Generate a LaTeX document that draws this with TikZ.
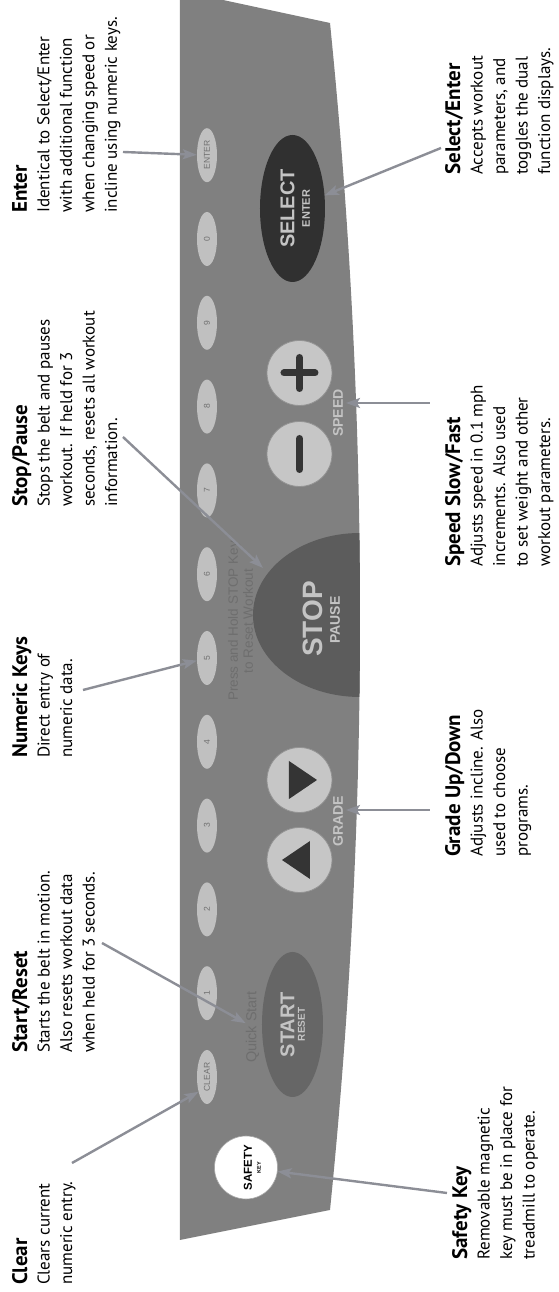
\documentclass[tikz,border=0pt]{standalone}
\usepackage{fontspec}
\setmainfont{PT Sans}
\newfontfamily\keyfont{Liberation Sans}
\usepackage{xcolor}
\usetikzlibrary{arrows.meta, shapes.geometric, positioning}
\definecolor{panelgray}{RGB}{128,128,128}
\definecolor{keygray}{RGB}{192,192,192}
\definecolor{keytext}{RGB}{112,112,112}
\definecolor{startgray}{RGB}{102,102,102}
\definecolor{stopgray}{RGB}{92,92,92}
\definecolor{selectgray}{RGB}{48,48,48}
\definecolor{btngray}{RGB}{198,198,198}
\definecolor{icongray}{RGB}{52,52,52}
\definecolor{labelgray}{RGB}{196,196,196}
\definecolor{faintgray}{RGB}{110,110,110}
\definecolor{pointergray}{RGB}{140,142,150}
\newcommand{\callhead}[1]{{\fontsize{21}{23}\selectfont\bfseries #1}}

\begin{document}
\begin{tikzpicture}[
            rotate=90, transform shape, x=1pt, y=1pt,
            panel/.style={fill=panelgray},
            numkey/.style={ellipse, fill=keygray, minimum width=54pt, minimum height=20pt,
                inner sep=0pt, text=keytext, font=\keyfont\fontsize{8.5}{9}\selectfont},
            roundbtn/.style={circle, fill=btngray, draw=gray!85, line width=.8pt, minimum size=65pt, inner sep=0pt},
            glyph/.style={fill=icongray},
            bar/.style={draw=icongray, line width=7pt, line cap=round},
            btnlabel/.style={inner sep=0pt, text=labelgray, font=\keyfont\bfseries\fontsize{#1}{#1}\selectfont},
            faint/.style={inner sep=0pt, text=faintgray, align=center, font=\keyfont\fontsize{#1}{15}\selectfont},
            callout/.style={anchor=north west, align=left, inner sep=0pt, font=\fontsize{17}{22.5}\selectfont},
            pointer/.style={draw=pointergray, line width=2.4pt, -{Stealth[length=14pt, width=10pt, inset=3pt]}},
        ]
        \useasboundingbox (0,0) rectangle (1292,559);
        \pgfmathsetmacro{\keystep}{83.8}

        \path[panel] (52,379) -- (82,229) .. controls (477,189) and (873,189) .. (1269,229)
            -- (1292,336) -- (1292,379) -- cycle;

        \begin{scope}
            \clip (52,379) -- (82,229) .. controls (477,189) and (873,189) .. (1269,229)
                -- (1292,336) -- (1292,379) -- cycle;
            \fill[stopgray] (677,199) ellipse [x radius=82, y radius=107];
        \end{scope}

        \foreach \Index/\Label in {0/CLEAR, 1/1, 2/2, 3/3, 4/4, 5/5, 6/6, 7/7, 8/8, 9/9, 10/0, 11/ENTER}
            \node[numkey] (key\Index) at (215+\Index*\keystep, 352) {\Label};

        \node[circle, fill=white, draw=gray!70, line width=.6pt, minimum size=63pt, inner sep=0pt]
            (safety) at (124.5,313) {};
        \node[inner sep=0pt, font=\keyfont\bfseries\fontsize{11.5}{12}\selectfont] (safetylbl) at (124.5,311) {SAFETY};
        \node[inner sep=0pt, font=\keyfont\bfseries\fontsize{5.5}{6}\selectfont] (keylbl) at (124.5,300) {KEY};

        \node[ellipse, fill=startgray, minimum width=145pt, minimum height=61pt, inner sep=0pt]
            (start) at (267.5,266.5) {};
        \node[btnlabel=20] (startlbl) at (267.5,271.5) {START};
        \node[btnlabel=10] (resetlbl) at (267.5,257.5) {RESET};
        \node[faint=14.5] (quick) at (265,306.5) {Quick Start};

        \node[ellipse, fill=selectgray, minimum width=147pt, minimum height=65pt, inner sep=0pt]
            (select) at (1083.5,266.5) {};
        \node[btnlabel=20] (selectlbl) at (1083.5,271.5) {SELECT};
        \node[btnlabel=11] (enterlbl) at (1083.5,253) {ENTER};

        \node[roundbtn] (gradeup) at (432,259.5) {};
        \node[roundbtn] (gradedown) at (512,259.5) {};
        \fill[glyph] (413,249) -- (451,249) -- (432,277) -- cycle;
        \fill[glyph] (493,270) -- (531,270) -- (512,242) -- cycle;
        \node[btnlabel=14] (gradelbl) at (471,221) {GRADE};

        \node[roundbtn] (slower) at (838,259.5) {};
        \node[roundbtn] (faster) at (919,259.5) {};
        \draw[bar] (822.5,259.5) -- (853.5,259.5);
        \draw[bar] (903.5,259.5) -- (934.5,259.5);
        \draw[bar] (919,244) -- (919,275);
        \node[btnlabel=14] (speedlbl) at (879,221) {SPEED};

        \node[btnlabel=28] (stoplbl) at (673,246.5) {STOP};
        \node[btnlabel=14] (pauselbl) at (672,224) {PAUSE};
        \node[faint=13.5] (pressnote) at (671,318.5) {Press and Hold STOP Key\\to Reset Workout};

        \node[callout] (cClear) at (7,547) {\callhead{Clear}\\Clears current\\numeric entry.};
        \node[callout] (cStart) at (239,547)
            {\callhead{Start/Reset}\\Starts the belt in motion.\\Also resets workout data\\when held for 3 seconds.};
        \node[callout] (cNumeric) at (534,547) {\callhead{Numeric Keys}\\Direct entry of\\numeric data.};
        \node[callout] (cStop) at (785,547)
            {\callhead{Stop/Pause}\\Stops the belt and pauses\\workout. If held for 3\\seconds, resets all workout\\information.};
        \node[callout] (cEnter) at (1079,547)
            {\callhead{Enter}\\Identical to Select/Enter\\with additional function\\when changing speed or\\incline using numeric keys.};
        \node[callout] (cSafety) at (32,107)
            {\callhead{Safety Key}\\Removable magnetic\\key must be in place for\\treadmill to operate.};
        \node[callout] (cGrade) at (435,114) {\callhead{Grade Up/Down}\\Adjusts incline. Also\\used to choose\\programs.};
        \node[callout] (cSpeed) at (725,114)
            {\callhead{Speed Slow/Fast}\\Adjusts speed in 0.1 mph\\increments. Also used\\to set weight and other\\workout parameters.};
        \node[callout] (cSelect) at (1117,114)
            {\callhead{Select/Enter}\\Accepts workout\\parameters, and\\toggles the dual\\function displays.};

        \coordinate (aClear) at (129,487);
        \coordinate (aSafety) at (99,112);
        \coordinate (aStart) at (349,457);
        \coordinate (aNumeric) at (602,476);
        \coordinate (aStop) at (855,436);
        \coordinate (hStop) at (724,296);
        \coordinate (aEnter) at (1140,436);
        \coordinate (aSelect) at (1144,118);
        \coordinate (aSpeed) at (889,129);
        \coordinate (hSpeed) at (889,213);
        \coordinate (aGrade) at (482,129);
        \coordinate (hGrade) at (482,213);

        \foreach \From/\To in {aClear/key0.150, aSafety/safety, aStart/quick, aNumeric/key5, aStop/hStop,
                aEnter/key11, aSelect/select, aSpeed/hSpeed, aGrade/hGrade}
            \draw[pointer] (\From) -- (\To);
    \end{tikzpicture}
\end{document}
